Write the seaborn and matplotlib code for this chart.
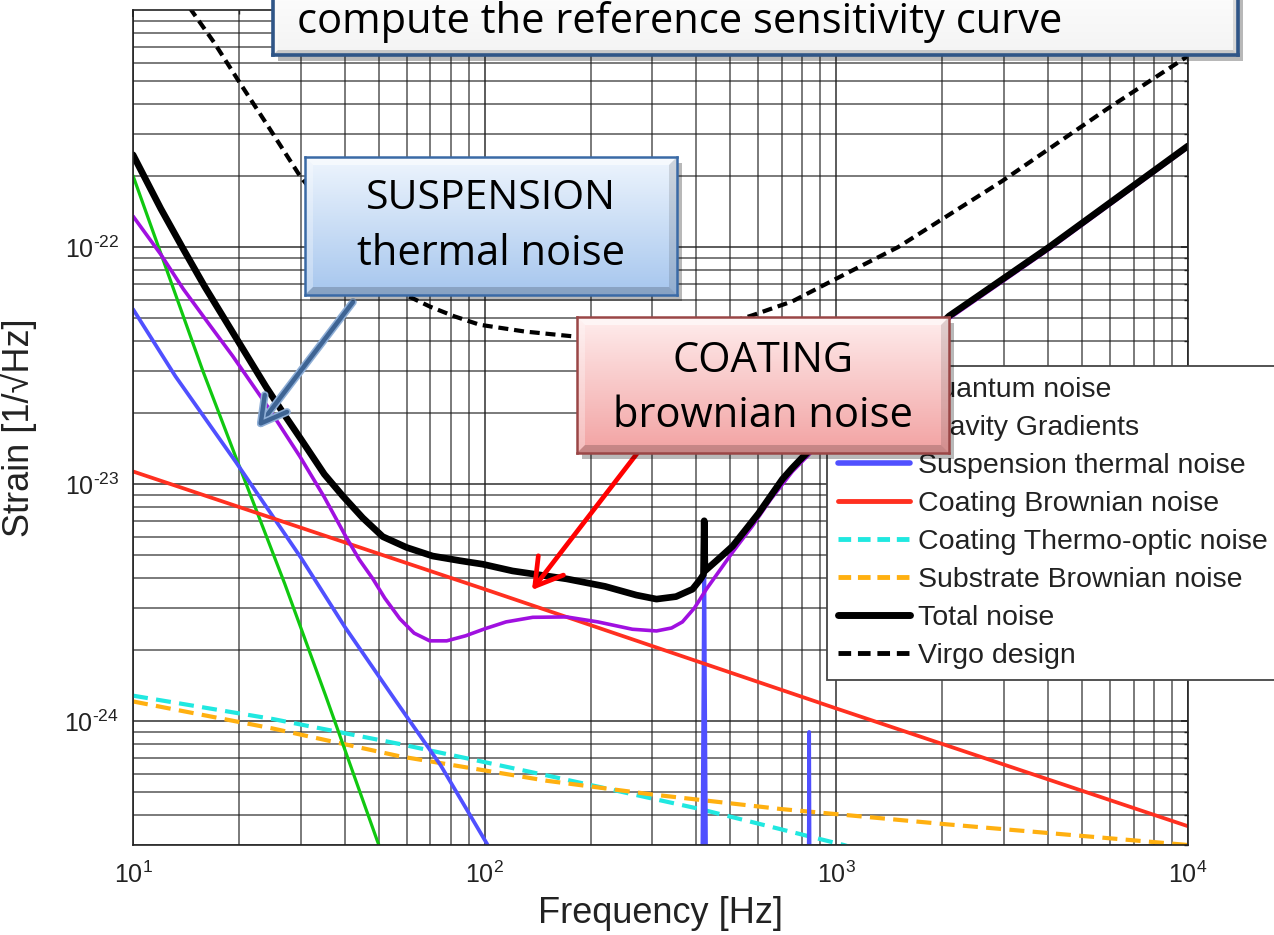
import numpy as np
import pandas as pd
import matplotlib
matplotlib.use("Agg")
import matplotlib.pyplot as plt
import seaborn as sns
from matplotlib.patches import Rectangle, FancyArrowPatch, Polygon
from matplotlib.lines import Line2D
from matplotlib.ticker import LogLocator, NullFormatter, FixedFormatter
import matplotlib.patheffects as pe

# ---------------- data ----------------
quantum_f = [10, 12, 13.9, 16.5, 19.2, 24, 29.8, 35, 40.3, 44, 48.1, 52, 57.4, 63, 69.8, 78, 88.3, 100, 115, 137,
             171, 210, 263, 308, 340, 365, 395, 427, 470, 507, 577, 650, 750, 1000, 1400, 1700, 2094, 4030, 10000]
quantum_v = [1.35e-22, 9.3e-23, 6.65e-23, 4.7e-23, 3.47e-23, 2.15e-23, 1.31e-23, 8.8e-24, 6.0e-24, 4.8e-24, 3.98e-24,
             3.3e-24, 2.7e-24, 2.35e-24, 2.18e-24, 2.18e-24, 2.29e-24, 2.45e-24, 2.62e-24, 2.74e-24, 2.75e-24, 2.62e-24,
             2.44e-24, 2.4e-24, 2.47e-24, 2.62e-24, 3.0e-24, 3.6e-24, 4.4e-24, 5.16e-24, 6.65e-24, 8.6e-24, 1.13e-23,
             1.75e-23, 2.75e-23, 3.7e-23, 5.0e-23, 9.8e-23, 2.63e-22]

gravity_f = [10, 15.8, 19.6, 27, 35.3, 49.6, 60]
gravity_v = [2.0e-22, 3.0e-23, 1.3e-23, 3.8e-24, 1.28e-24, 3.1e-25, 1.5e-25]

susp_f = [10, 13.2, 19.6, 30, 40, 55.8, 75, 102, 130, 200, 300, 408, 416, 419, 421, 423, 426, 434, 600, 828,
          834, 837, 840, 846, 1000, 10000]
susp_v = [5.47e-23, 2.85e-23, 1.24e-23, 4.9e-24, 2.5e-24, 1.22e-24, 6.5e-25, 3.0e-25, 1.75e-25, 6.0e-26, 2.0e-26,
          1.0e-26, 3.0e-25, 1.6e-24, 7.0e-24, 1.6e-24, 3.0e-25, 1.0e-26, 1.0e-26, 1.0e-26, 2.0e-25, 9.0e-25,
          2.0e-25, 1.0e-26, 1.0e-26, 1.0e-26]

coating_f = [10, 100, 1000, 10000]
coating_v = [1.13e-23, 3.6e-24, 1.13e-24, 3.6e-25]

thermo_f = [10, 25, 57.4, 150, 408, 1050, 1500]
thermo_v = [1.28e-24, 1.02e-24, 8.0e-25, 5.9e-25, 4.26e-25, 3.0e-25, 2.55e-25]

substrate_f = [10, 25, 57.4, 150, 300, 690, 2050, 10000]
substrate_v = [1.21e-24, 9.3e-25, 7.1e-25, 5.6e-25, 4.9e-25, 4.26e-25, 3.67e-25, 3.0e-25]

total_f = [10, 12, 13.9, 16, 19.2, 23.9, 26.7, 30, 35, 39.5, 45, 51.3, 60, 71.1, 85, 98.7, 120, 171, 220, 270,
           308, 350, 390, 410, 419, 421, 423, 460, 507, 600, 703, 750, 850, 1000, 1400, 1700, 2094, 4030, 10000]
total_v = [2.45e-22, 1.45e-22, 9.8e-23, 6.8e-23, 4.37e-23, 2.57e-23, 2.0e-23, 1.55e-23, 1.1e-23, 8.9e-24, 7.2e-24,
           6.0e-24, 5.4e-24, 4.97e-24, 4.75e-24, 4.59e-24, 4.3e-24, 3.98e-24, 3.7e-24, 3.4e-24, 3.27e-24, 3.35e-24,
           3.6e-24, 3.95e-24, 4.15e-24, 7.0e-24, 4.3e-24, 4.8e-24, 5.47e-24, 7.5e-24, 1.05e-23, 1.17e-23, 1.42e-23,
           1.8e-23, 2.85e-23, 3.8e-23, 5.12e-23, 1.0e-22, 2.67e-22]

virgo_f = [14.5, 17, 20, 24, 29.8, 36, 45, 52, 59.3, 70, 82, 96.8, 130, 178, 240, 300, 370, 450, 577, 750, 1089,
           1500, 2965, 5850, 10000]
virgo_v = [1.02e-21, 7.3e-22, 5.0e-22, 3.3e-22, 2.0e-22, 1.4e-22, 1.0e-22, 7.9e-23, 6.3e-23, 5.6e-23, 5.1e-23,
           4.7e-23, 4.4e-23, 4.2e-23, 4.05e-23, 4.0e-23, 4.2e-23, 4.6e-23, 5.15e-23, 5.9e-23, 7.85e-23, 1.0e-22,
           1.9e-22, 3.8e-22, 6.4e-22]

legend_labels = ["Quantum noise", "Gravity Gradients", "Suspension thermal noise", "Coating Brownian noise",
                 "Coating Thermo-optic noise", "Substrate Brownian noise", "Total noise", "Virgo design"]

x_ticks = [10, 100, 1000, 10000]
x_ticklabels = [r"$\mathdefault{10^{1}}$", r"$\mathdefault{10^{2}}$", r"$\mathdefault{10^{3}}$", r"$\mathdefault{10^{4}}$"]
y_ticks = [1e-24, 1e-23, 1e-22]
y_ticklabels = [r"$\mathdefault{10^{\text{-}24}}$", r"$\mathdefault{10^{\text{-}23}}$", r"$\mathdefault{10^{\text{-}22}}$"]

# ---------------- style ----------------
sns.set_theme(style="white")
plt.rcParams["font.family"] = ["Liberation Sans", "DejaVu Sans"]
plt.rcParams["mathtext.fontset"] = "custom"
plt.rcParams["mathtext.rm"] = "Liberation Sans"
plt.rcParams["mathtext.it"] = "Liberation Sans:italic"
plt.rcParams["mathtext.bf"] = "Liberation Sans:bold"
plt.rcParams["axes.unicode_minus"] = False

W, H = 1274, 935
fig = plt.figure(figsize=(W / 100, H / 100), dpi=100)
fig.patch.set_facecolor("white")
ax = fig.add_axes([133 / W, 1 - 845 / H, (1188 - 133) / W, (845 - 10) / H])
ax.set_xscale("log")
ax.set_yscale("log")

C_PURPLE = "#A010E0"
C_GREEN = "#10C810"
C_BLUE = "#5050FF"
C_RED = "#FF3020"
C_CYAN = "#20E8E0"
C_ORANGE = "#FFB010"

sns.lineplot(x=thermo_f, y=thermo_v, ax=ax, color=C_CYAN, lw=3.0, linestyle=(0, (3.6, 2.0)), estimator=None)
sns.lineplot(x=substrate_f, y=substrate_v, ax=ax, color=C_ORANGE, lw=3.0, linestyle=(0, (3.6, 2.0)), estimator=None)
sns.lineplot(x=gravity_f, y=gravity_v, ax=ax, color=C_GREEN, lw=2.3, estimator=None)
sns.lineplot(x=susp_f, y=susp_v, ax=ax, color=C_BLUE, lw=2.7, estimator=None)
sns.lineplot(x=coating_f, y=coating_v, ax=ax, color=C_RED, lw=2.7, estimator=None)
sns.lineplot(x=quantum_f, y=quantum_v, ax=ax, color=C_PURPLE, lw=2.6, estimator=None)
sns.lineplot(x=virgo_f, y=virgo_v, ax=ax, color="black", lw=3.0, linestyle=(0, (2.4, 1.4)), estimator=None)
sns.lineplot(x=total_f, y=total_v, ax=ax, color="black", lw=4.8, estimator=None)

ax.set_xlim(10, 10000)
ax.set_ylim(3.0e-25, 1.0e-21)
ax.set_xticks(x_ticks)
ax.set_xticklabels(x_ticklabels)
ax.set_yticks(y_ticks)
ax.set_yticklabels(y_ticklabels)
ax.xaxis.set_minor_locator(LogLocator(base=10, subs=np.arange(2, 10)))
ax.yaxis.set_minor_locator(LogLocator(base=10, subs=np.arange(2, 10), numticks=50))
ax.xaxis.set_minor_formatter(NullFormatter())
ax.yaxis.set_minor_formatter(NullFormatter())
ax.set_axisbelow(True)
ax.grid(True, which="major", color="#1e1e1e", lw=1.2, alpha=0.85)
ax.grid(True, which="minor", color="#1e1e1e", lw=1.1, alpha=0.75)
ax.tick_params(which="both", direction="in", top=True, right=True, colors="#222222")
ax.tick_params(axis="x", which="major", labelsize=18, pad=12, length=5)
ax.tick_params(axis="y", which="major", labelsize=18, pad=10, length=5)
ax.tick_params(which="minor", length=3)
for s in ax.spines.values():
    s.set_color("#222222")
    s.set_linewidth(1.2)
ax.set_xlabel("Frequency [Hz]", fontsize=26, color="#222222", labelpad=6)
ax.set_ylabel("Strain [1/\u221aHz]", fontsize=26, color="#222222", labelpad=10)
ax.yaxis.set_label_coords(-(133 - 37) / (1188 - 133), 0.5)

handles = [
    Line2D([], [], color=C_PURPLE, lw=3),
    Line2D([], [], color=C_GREEN, lw=3),
    Line2D([], [], color=C_BLUE, lw=4),
    Line2D([], [], color=C_RED, lw=3.5),
    Line2D([], [], color=C_CYAN, lw=3.5, linestyle=(0, (2.6, 1.4))),
    Line2D([], [], color=C_ORANGE, lw=3.5, linestyle=(0, (2.6, 1.4))),
    Line2D([], [], color="black", lw=5),
    Line2D([], [], color="black", lw=3.5, linestyle=(0, (2.6, 1.4))),
]
leg = ax.legend(handles, legend_labels, loc="upper left", bbox_to_anchor=(827 / W, 1 - 366 / H),
                bbox_transform=fig.transFigure, borderaxespad=0, fontsize=20.5, frameon=True, fancybox=False,
                framealpha=1, handlelength=2.5, handletextpad=0.28, labelspacing=0.42, borderpad=0.4)
leg.get_frame().set_edgecolor("#444444")
leg.get_frame().set_linewidth(1.3)
for t in leg.get_texts():
    t.set_color("#222222")


# ---------------- annotation boxes ----------------
def px(x, y):
    return x / W, 1 - y / H


def box(x0, y0, x1, y1, c_top, c_bot, edge, elw, z, bevel=8):
    sx0, sy1 = px(x0 + 5, y1 + 6)
    fig.add_artist(Rectangle((sx0, sy1), (x1 - x0) / W, (y1 - y0) / H, transform=fig.transFigure,
                             facecolor=(0, 0, 0, 0.28), edgecolor="none", zorder=z - 0.5))
    bx0, by1 = px(x0, y1)
    bax = fig.add_axes([bx0, by1, (x1 - x0) / W, (y1 - y0) / H], zorder=z)
    t = np.linspace(0, 1, 200)[:, None]
    ct = np.array(matplotlib.colors.to_rgb(c_top))
    cb = np.array(matplotlib.colors.to_rgb(c_bot))
    grad = (1 - t)[:, :, None] * ct[None, None, :] + t[:, :, None] * cb[None, None, :]
    grad = np.repeat(grad, 2, axis=1)
    bax.imshow(grad, aspect="auto", extent=(0, 1, 0, 1), origin="upper", interpolation="bilinear")
    bax.set_xlim(0, 1)
    bax.set_ylim(0, 1)
    bax.set_xticks([])
    bax.set_yticks([])
    bw = bevel / (x1 - x0)
    bh = bevel / (y1 - y0)
    bax.add_patch(Polygon([(0, 1), (1, 1), (1 - bw, 1 - bh), (bw, 1 - bh)], closed=True,
                          facecolor=(1, 1, 1, 0.55), edgecolor="none"))
    bax.add_patch(Polygon([(0, 0), (0, 1), (bw, 1 - bh), (bw, bh)], closed=True,
                          facecolor=(1, 1, 1, 0.3), edgecolor="none"))
    bax.add_patch(Polygon([(0, 0), (1, 0), (1 - bw, bh), (bw, bh)], closed=True,
                          facecolor=(0, 0, 0, 0.18), edgecolor="none"))
    bax.add_patch(Polygon([(1, 0), (1, 1), (1 - bw, 1 - bh), (1 - bw, bh)], closed=True,
                          facecolor=(0, 0, 0, 0.12), edgecolor="none"))
    for s in bax.spines.values():
        s.set_color(edge)
        s.set_linewidth(elw)
    return bax


BOX_FONT = ["Open Sans", "DejaVu Sans"]

a1 = FancyArrowPatch(px(353, 302), px(258, 427), transform=fig.transFigure,
                     arrowstyle="->,head_length=0.5,head_width=0.28", mutation_scale=36,
                     color="#3E6494", lw=3.2, shrinkA=0, shrinkB=0, zorder=2)
a1.set_path_effects([pe.Stroke(linewidth=5.5, foreground="#8EAED6"), pe.Normal()])
fig.add_artist(a1)
a2 = FancyArrowPatch(px(642, 447), px(532, 590), transform=fig.transFigure,
                     arrowstyle="->,head_length=0.5,head_width=0.3", mutation_scale=38,
                     color="#FF0000", lw=3.4, shrinkA=0, shrinkB=0, zorder=2)
fig.add_artist(a2)

box(273, -30, 1238, 55, "#FFFFFF", "#F4F4F4", "#2F5587", 2.6, 10, bevel=5)
fig.text(*px(297, 22), "compute the reference sensitivity curve", ha="left", va="center",
         fontsize=30, family=BOX_FONT, color="black", zorder=11)

box(305, 157, 677, 295, "#EEF5FD", "#A6C6EE", "#3A6AA6", 1.8, 12)
fig.text(*px(491, 199), "SUSPENSION", ha="center", va="center", fontsize=29.5, family=BOX_FONT, color="black", zorder=13)
fig.text(*px(491, 254), "thermal noise", ha="center", va="center", fontsize=30, family=BOX_FONT, color="black", zorder=13)

box(577, 317, 949, 453, "#FFEDED", "#F2A2A2", "#9A4646", 1.8, 14)
fig.text(*px(763, 361), "COATING", ha="center", va="center", fontsize=30, family=BOX_FONT, color="black", zorder=15)
fig.text(*px(763, 416), "brownian noise", ha="center", va="center", fontsize=30, family=BOX_FONT, color="black", zorder=15)

fig.savefig("out.png", dpi=100, facecolor="white")
